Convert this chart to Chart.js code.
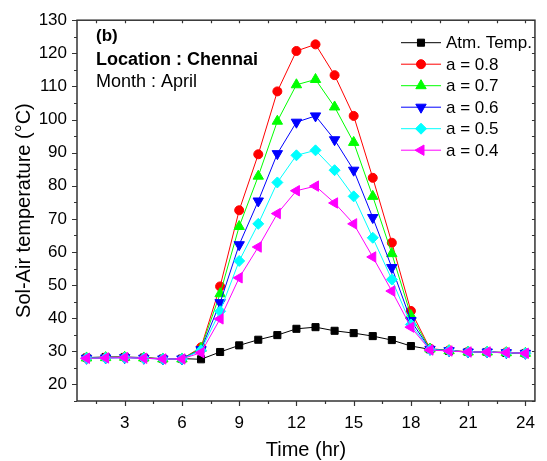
<!DOCTYPE html>
<html>
<head>
<meta charset="utf-8">
<script src="https://cdn.jsdelivr.net/npm/chart.js@4/dist/chart.umd.min.js"></script>
<style>
  html, body { margin: 0; padding: 0; background: #fff; }
  #wrap { width: 547px; height: 461px; position: relative; }
</style>
</head>
<body>
<div id="wrap"><canvas id="c" width="547" height="461"></canvas></div>
<script>
// ---------- data ----------
const hours = [1,2,3,4,5,6,7,8,9,10,11,12,13,14,15,16,17,18,19,20,21,22,23,24];
const atmTemp = [28.1,28.3,28.3,28.1,27.8,27.8,27.6,29.8,31.8,33.5,34.9,36.8,37.3,36.2,35.5,34.6,33.4,31.6,30.6,30.1,29.8,29.8,29.5,29.4];
const a08 = [28.0,28.1,28.2,28.0,27.7,27.7,31.2,49.6,72.6,89.5,108.5,120.7,122.7,113.4,101.1,82.4,62.8,42.2,30.8,30.3,29.9,29.8,29.7,29.4];
const a07 = [28.0,28.1,28.2,28.0,27.7,27.7,30.9,47.4,67.7,82.9,99.5,110.5,112.1,103.8,93.1,76.8,59.5,40.8,30.7,30.2,29.8,29.8,29.6,29.4];
const a06 = [27.9,28.0,28.1,27.9,27.7,27.7,30.5,44.7,62.2,75.4,89.7,99.2,101.1,93.9,84.7,70.4,55.3,39.3,30.6,30.2,29.8,29.8,29.6,29.4];
const a05 = [27.9,28.0,28.1,27.9,27.7,27.7,30.3,42.1,57.3,68.5,81.0,89.2,90.7,84.7,76.8,64.3,51.7,38.1,30.5,30.2,29.8,29.8,29.6,29.4];
const a04 = [27.9,28.0,28.1,27.9,27.7,27.7,29.6,39.8,52.2,61.5,71.6,78.5,79.9,74.8,68.5,58.5,48.2,37.3,30.4,30.1,29.8,29.8,29.6,29.4];
const seriesNames = ['Atm. Temp.','a = 0.8','a = 0.7','a = 0.6','a = 0.5','a = 0.4'];
const xTickLabels = [3,6,9,12,15,18,21,24];
const yTickLabels = [20,30,40,50,60,70,80,90,100,110,120,130];

const FONT = "'Liberation Sans', Arial, sans-serif";

function pts(vals){ return hours.map((h,i)=>({x:h,y:vals[i]})); }

function ds(label, vals, color, style, radius, rotation, order){
  return {
    label, data: pts(vals), borderColor: color, backgroundColor: color,
    borderWidth: 1, pointStyle: style, pointRadius: radius, pointHoverRadius: radius,
    pointRotation: rotation, pointBorderColor: color, pointBackgroundColor: color,
    pointBorderWidth: 1, tension: 0, order
  };
}

const datasets = [
  ds(seriesNames[0], atmTemp, '#000000', 'rect', 5, 0, 5),
  ds(seriesNames[1], a08, '#FF0000', 'circle', 4.5, 0, 4),
  ds(seriesNames[2], a07, '#00FF00', 'triangle', 6, 0, 3),
  ds(seriesNames[3], a06, '#0000FF', 'triangle', 6, 180, 2),
  ds(seriesNames[4], a05, '#00FFFF', 'rectRot', 5.5, 0, 1),
  ds(seriesNames[5], a04, '#FF00FF', 'triangle', 6, 270, 0)
];

// frame, ticks, annotation and legend
const decor = {
  id: 'decor',
  afterDatasetsDraw(chart){
    const ctx = chart.ctx, a = chart.chartArea;
    const xs = chart.scales.x, ys = chart.scales.y;
    ctx.save();
    ctx.strokeStyle = '#333';
    ctx.lineWidth = 1.5;
    ctx.strokeRect(a.left, a.top, a.right - a.left, a.bottom - a.top);
    ctx.lineWidth = 1.2;
    ctx.beginPath();
    for (let v = 15; v <= 130.01; v += 5) {
      const y = Math.round(ys.getPixelForValue(v)) + 0.5;
      const major = (v % 10 === 0);
      const L = major ? 5 : 3;
      ctx.moveTo(a.left - L, y); ctx.lineTo(a.left, y);
      ctx.moveTo(a.right, y); ctx.lineTo(a.right - 3, y);
    }
    for (let v = 1.5; v <= 24.01; v += 1.5) {
      const x = Math.round(xs.getPixelForValue(v)) + 0.5;
      const major = (v % 3 === 0);
      const L = major ? 5 : 3;
      ctx.moveTo(x, a.bottom); ctx.lineTo(x, a.bottom + L);
      ctx.moveTo(x, a.top); ctx.lineTo(x, a.top + 3);
    }
    ctx.stroke();

    // annotation
    ctx.fillStyle = '#000';
    ctx.textAlign = 'left';
    ctx.textBaseline = 'alphabetic';
    ctx.font = 'bold 17px ' + FONT;
    ctx.fillText('(b)', 96, 41);
    ctx.font = 'bold 18px ' + FONT;
    ctx.fillText('Location : Chennai', 96, 65);
    ctx.font = '18px ' + FONT;
    ctx.fillText('Month : April', 96, 87);

    // legend
    const lx0 = 401, lx1 = 441, mx = 421, tx = 446, y0 = 42.7, dy = 21.5;
    chart.data.datasets.forEach((d, i) => {
      const y = y0 + i * dy;
      ctx.strokeStyle = d.borderColor;
      ctx.lineWidth = 1;
      ctx.beginPath(); ctx.moveTo(lx0, y); ctx.lineTo(lx1, y); ctx.stroke();
      ctx.fillStyle = d.pointBackgroundColor;
      ctx.strokeStyle = d.pointBorderColor;
      Chart.helpers.drawPoint(ctx, {pointStyle: d.pointStyle, radius: d.pointRadius, rotation: d.pointRotation, borderWidth: 1}, mx, y);
      ctx.fillStyle = '#000';
      ctx.font = '17px ' + FONT;
      ctx.textBaseline = 'middle';
      ctx.fillText(d.label, tx, y + 1);
    });
    ctx.restore();
  }
};

new Chart(document.getElementById('c'), {
  type: 'line',
  data: { datasets },
  options: {
    responsive: false,
    animation: false,
    events: [],
    layout: { padding: { top: 19, right: 2, left: 0, bottom: 0 } },
    plugins: { legend: { display: false }, tooltip: { enabled: false } },
    scales: {
      x: {
        type: 'linear', min: 0.5, max: 24.5,
        afterBuildTicks(s){ s.ticks = xTickLabels.map(v => ({value: v})); },
        afterFit(s){ s.height = 60; },
        grid: { display: false, drawTicks: false },
        border: { display: false },
        ticks: { color: '#000', font: { family: FONT, size: 17 }, padding: 12, autoSkip: false, maxRotation: 0 },
        title: { display: true, text: 'Time (hr)', color: '#000', font: { family: FONT, size: 20, lineHeight: 1.1 }, padding: 0 }
      },
      y: {
        type: 'linear', min: 15, max: 130,
        afterBuildTicks(s){ s.ticks = yTickLabels.map(v => ({value: v})); },
        afterFit(s){ s.width = 77; },
        grid: { display: false, drawTicks: false },
        border: { display: false },
        ticks: { color: '#000', font: { family: FONT, size: 17 }, padding: 10, autoSkip: false },
        title: { display: true, text: 'Sol-Air temperature (\u00B0C)', color: '#000', font: { family: FONT, size: 20, lineHeight: 1.2 }, padding: { top: 12, bottom: 0 } }
      }
    }
  },
  plugins: [decor]
});
</script>
</body>
</html>
